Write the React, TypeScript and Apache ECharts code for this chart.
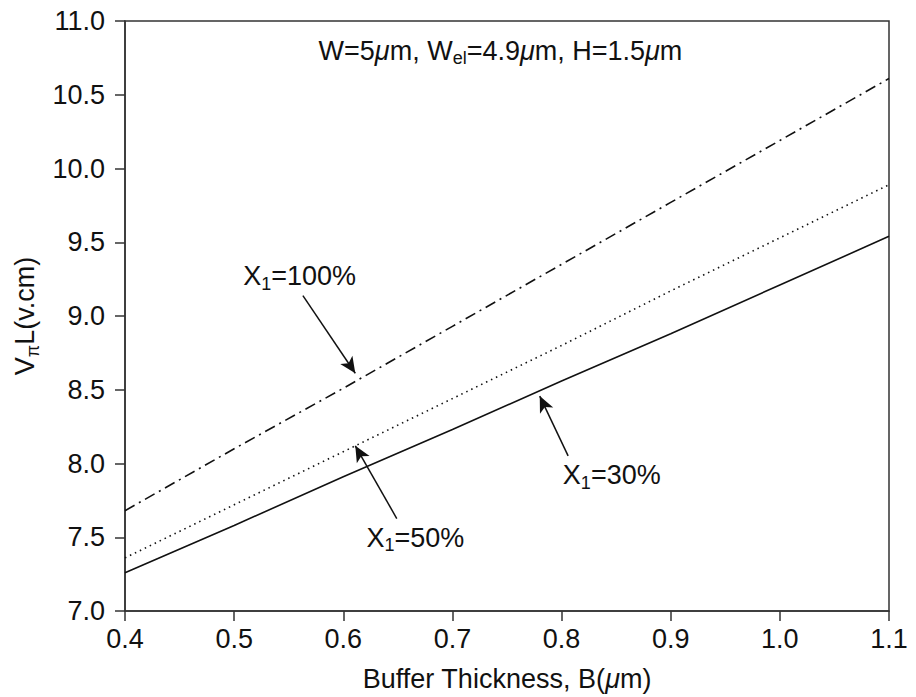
import React, { useEffect, useRef } from "react";
import * as echarts from "echarts";

// Buffer thickness B (µm)
const bufferThickness = [0.4, 0.5, 0.6, 0.7, 0.8, 0.9, 1.0, 1.1];
// VπL (V·cm) for the three X1 values
const x1_100 = [7.68, 8.1, 8.51, 8.93, 9.35, 9.77, 10.19, 10.61];
const x1_50 = [7.36, 7.72, 8.08, 8.44, 8.8, 9.17, 9.53, 9.89];
const x1_30 = [7.26, 7.58, 7.91, 8.23, 8.56, 8.88, 9.21, 9.54];

// annotation labels: [x, y, formatter]
const annotationLabels: [number, number, string][] = [
  [0.744, 10.775, "{n|W=5}{i|μ}{n|m, W}{s|el}{n|=4.9}{i|μ}{n|m, H=1.5}{i|μ}{n|m}"],
  [0.56, 9.245, "{n|X}{s|1}{n|=100%}"],
  [0.666, 7.473, "{n|X}{s|1}{n|=50%}"],
  [0.846, 7.897, "{n|X}{s|1}{n|=30%}"],
];
// arrows: [fromX, fromY, toX, toY]
const arrows: [number, number, number, number][] = [
  [0.563, 9.138, 0.611, 8.612],
  [0.649, 7.627, 0.611, 8.12],
  [0.806, 8.052, 0.78, 8.457],
];

const FONT = "'Liberation Sans', Arial, Helvetica, sans-serif";
const INK = "#111111";
const FS = 27;

const rich = {
  n: { fontSize: FS, fontFamily: FONT, color: INK, verticalAlign: "top", lineHeight: 34, textBorderWidth: 0 },
  i: { fontSize: FS, fontFamily: FONT, color: INK, fontStyle: "italic", verticalAlign: "top", lineHeight: 34, textBorderWidth: 0 },
  s: { fontSize: 18, fontFamily: FONT, color: INK, verticalAlign: "top", lineHeight: 34, padding: [12, 0, 0, 0], textBorderWidth: 0 },
};

export default function App() {
  const ref = useRef<HTMLDivElement>(null);
  useEffect(() => {
    if (!ref.current) return;
    const chart = echarts.init(ref.current, undefined, { renderer: "svg" });
    const pairs = (ys: number[]) => bufferThickness.map((b, i) => [b, ys[i]]);
    const lineSeries = (name: string, ys: number[], type: any) => ({
      name,
      type: "line",
      data: pairs(ys),
      showSymbol: false,
      symbol: "none",
      silent: true,
      lineStyle: { color: INK, width: 1.6, type },
    });
    chart.setOption({
      animation: false,
      backgroundColor: "#ffffff",
      textStyle: { fontFamily: FONT },
      grid: {
        left: 125,
        right: 27,
        top: 21,
        bottom: 83,
        show: true,
        borderColor: "#333",
        borderWidth: 1.5,
        containLabel: false,
      },
      xAxis: {
        type: "value",
        min: 0.4,
        max: 1.1,
        interval: 0.1,
        name: "{n|Buffer Thickness, B(}{i|μ}{n|m)}",
        nameLocation: "middle",
        nameGap: 54,
        nameTextStyle: { rich },
        axisLine: { show: true, lineStyle: { color: "#333", width: 1.5 } },
        axisTick: { show: true, inside: false, length: 10, lineStyle: { color: "#333", width: 1.5 } },
        axisLabel: {
          margin: 14,
          fontSize: FS,
          fontFamily: FONT,
          color: INK,
          formatter: (v: number) => v.toFixed(1),
        },
        splitLine: { show: false },
      },
      yAxis: {
        type: "value",
        min: 7,
        max: 11,
        interval: 0.5,
        name: "{n|V}{s|π}{n|L(v.cm)}",
        nameLocation: "middle",
        nameGap: 74,
        nameRotate: 90,
        nameTextStyle: { rich },
        axisLine: { show: true, lineStyle: { color: "#333", width: 1.5 } },
        axisTick: { show: true, inside: false, length: 10, lineStyle: { color: "#333", width: 1.5 } },
        axisLabel: {
          margin: 20,
          fontSize: FS,
          fontFamily: FONT,
          color: INK,
          formatter: (v: number) => v.toFixed(1),
        },
        splitLine: { show: false },
      },
      series: [
        lineSeries("X1=100%", x1_100, [11, 5, 2, 5]),
        lineSeries("X1=50%", x1_50, [1.5, 4]),
        {
          ...lineSeries("X1=30%", x1_30, "solid"),
          markLine: {
            silent: true,
            symbol: ["none", "arrow"],
            symbolSize: [11, 16],
            label: { show: false },
            lineStyle: { color: INK, width: 1.5, type: "solid" },
            itemStyle: { color: INK },
            data: arrows.map(([x1, y1, x2, y2]) => [{ coord: [x1, y1] }, { coord: [x2, y2] }]),
          },
        },
        {
          name: "labels",
          type: "scatter",
          silent: true,
          symbolSize: 1,
          itemStyle: { color: "rgba(255,255,255,0)" },
          data: annotationLabels.map(([x, y, f]) => ({
            value: [x, y],
            label: {
              show: true,
              position: "inside",
              align: "center",
              verticalAlign: "middle",
              color: INK,
              opacity: 1,
              textBorderWidth: 0,
              textBorderColor: "transparent",
              formatter: f,
              rich,
            },
          })),
        },
      ],
    });
    return () => chart.dispose();
  }, []);
  return (
    <div
      ref={ref}
      style={{ position: "fixed", left: 0, top: 0, width: 916, height: 697, background: "#fff" }}
    />
  );
}
